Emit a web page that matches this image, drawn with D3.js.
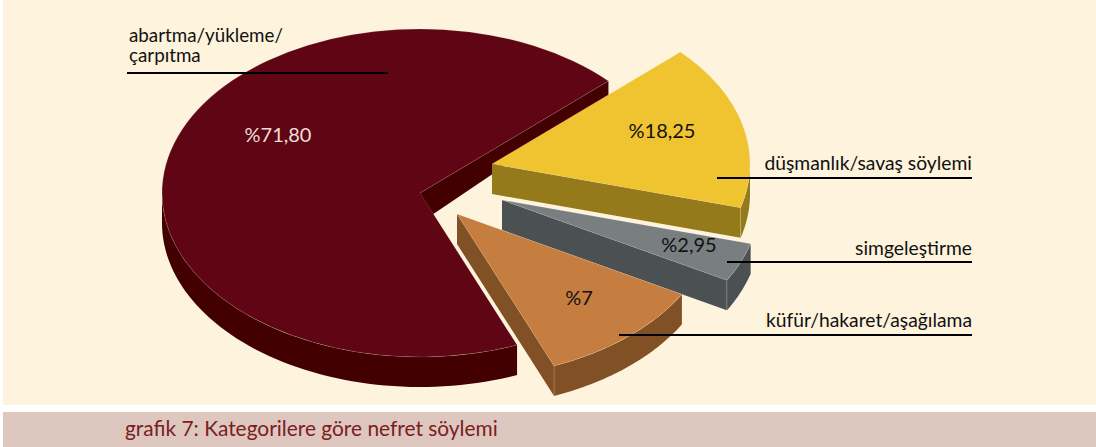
<!DOCTYPE html>
<html>
<head>
<meta charset="utf-8">
<script src="https://cdn.jsdelivr.net/npm/d3@7"></script>
<style>
  html, body { margin: 0; padding: 0; background: #fff; }
  svg { display: block; }
  text { font-family: Lato, "Open Sans", sans-serif; }
</style>
</head>
<body>
<div id="chart"></div>
<script>
// slice names and the printed percentages
const categories = ["abartma/yükleme/\nçarpıtma", "düşmanlık/savaş söylemi", "simgeleştirme", "küfür/hakaret/aşağılama"];
const percentLabels = ["%71,80", "%18,25", "%2,95", "%7"];
// share of the circle each slice really covers in the picture (not the printed number)
const drawnShares = [69.1, 16.25, 3.85, 10.7];
const caption = "grafik 7: Kategorilere göre nefret söylemi";

const topColors = ["#5f0513", "#f0c330", "#797e81", "#c67d40"];
const sideColors = ["#430000", "#957a1b", "#4b5053", "#815024"];

const width = 1096,
      height = 447,
      cx = 420, cy = 193,      // centre of the big slice
      rx = 258, ry = 164,      // pie is squashed to an ellipse
      depth = 30;

// how far each slice is pulled out of the centre
const explode = [[0, 0], [72, -29], [82, 7], [37, 21]];
// the back wall of the big slice gets shorter towards the rim
const farDepth = [15, 30, 30, 30];
// leader lines and label spots
const leaderX = [[127, 388], [717, 972], [727, 972], [619, 972]];
const leaderY = [73, 178, 262, 335];
const nameGap = [11, 8, 7, 8];
const percentPos = [[278, 135], [662, 131], [689, 245], [579, 298]];

let svg = d3.select("#chart")
    .append("svg")
    .attr("width", width)
    .attr("height", height)
    .attr("viewBox", [0, 0, width, height]);

svg.append("rect").attr("x", 3).attr("y", 0).attr("width", width - 3).attr("height", 405).attr("fill", "#fef3dc");
svg.append("rect").attr("x", 3).attr("y", 412).attr("width", width - 3).attr("height", 35).attr("fill", "#dec7bf");

const start = 157.9 * Math.PI / 180;

let pie = d3.pie()
    .sort(null)
    .startAngle(start)
    .endAngle(start + 2 * Math.PI)
    .value(d => d);

let arc = d3.arc().innerRadius(0).outerRadius(rx);

const rimPoint = (a, dy) => [rx * Math.sin(a), -ry * Math.cos(a) + dy];

let line = d3.line();

// outer wall: only the part of the rim that faces the viewer
function rimPath(d) {
    let a0 = d.startAngle % (2 * Math.PI);
    let a1 = a0 + (d.endAngle - d.startAngle);
    let lo = Math.max(a0, Math.PI / 2), hi = Math.min(a1, 3 * Math.PI / 2);
    let angles = d3.range(0, 61).map(i => lo + (hi - lo) * i / 60);
    let pts = angles.map(a => rimPoint(a, 0)).concat(angles.slice().reverse().map(a => rimPoint(a, depth)));
    return line(pts) + "Z";
}

// straight cut wall from the apex to the slice's end edge
function wallPath(d, i) {
    return line([[0, 0], rimPoint(d.endAngle, 0), rimPoint(d.endAngle, farDepth[i]), [0, depth]]) + "Z";
}

let slice = svg.selectAll(".slice")
    .data(pie(drawnShares))
    .join("g")
    .attr("class", "slice")
    .attr("transform", (d, i) => `translate(${cx + explode[i][0]},${cy + explode[i][1]})`);

slice.append("path")
    .attr("d", rimPath)
    .attr("fill", (d, i) => sideColors[i]);

slice.append("path")
    .attr("d", wallPath)
    .attr("fill", (d, i) => sideColors[i]);

// light seam where the rim meets the cut wall
slice.filter((d, i) => i > 0).append("path")
    .attr("d", d => line([rimPoint(d.endAngle, 0), rimPoint(d.endAngle, depth)]))
    .attr("stroke", "#fff")
    .attr("stroke-opacity", 0.3)
    .attr("stroke-width", 0.7)
    .attr("fill", "none");

slice.append("path")
    .attr("d", arc)
    .attr("transform", `scale(1,${ry / rx})`)
    .attr("fill", (d, i) => topColors[i])
    .attr("stroke", "#fff")
    .attr("stroke-opacity", 0.22)
    .attr("stroke-width", 0.6)
    .attr("vector-effect", "non-scaling-stroke");

// leader lines
svg.selectAll(".leader")
    .data(leaderY)
    .join("line")
    .attr("class", "leader")
    .attr("x1", (d, i) => leaderX[i][0])
    .attr("x2", (d, i) => leaderX[i][1])
    .attr("y1", d => d)
    .attr("y2", d => d)
    .attr("stroke", "#000")
    .attr("stroke-width", 2);

// percent labels
svg.selectAll(".pct")
    .data(percentLabels)
    .join("text")
    .attr("class", "pct")
    .attr("x", (d, i) => percentPos[i][0])
    .attr("y", (d, i) => percentPos[i][1] + 7)
    .attr("text-anchor", "middle")
    .attr("font-size", 20)
    .attr("fill", (d, i) => i == 0 ? "#eeddd8" : "#111")
    .text(d => d);

// category labels sit on top of their leaders
let nameLabel = svg.selectAll(".name")
    .data(categories)
    .join("text")
    .attr("class", "name")
    .attr("font-size", (d, i) => i == 0 ? 18.8 : 19.3)
    .attr("fill", "#111")
    .attr("text-anchor", (d, i) => i == 0 ? "start" : "end");

nameLabel.each(function(d, i) {
    let rows = d.split("\n");
    d3.select(this).selectAll("tspan")
        .data(rows)
        .join("tspan")
        .attr("x", i == 0 ? 129 : leaderX[i][1])
        .attr("y", (r, j) => leaderY[i] - nameGap[i] - (rows.length - 1 - j) * 20)
        .text(r => r);
});

svg.append("text")
    .attr("x", 125)
    .attr("y", 436)
    .attr("font-size", 20.9)
    .attr("fill", "#7a2022")
    .text(caption);
</script>
</body>
</html>
